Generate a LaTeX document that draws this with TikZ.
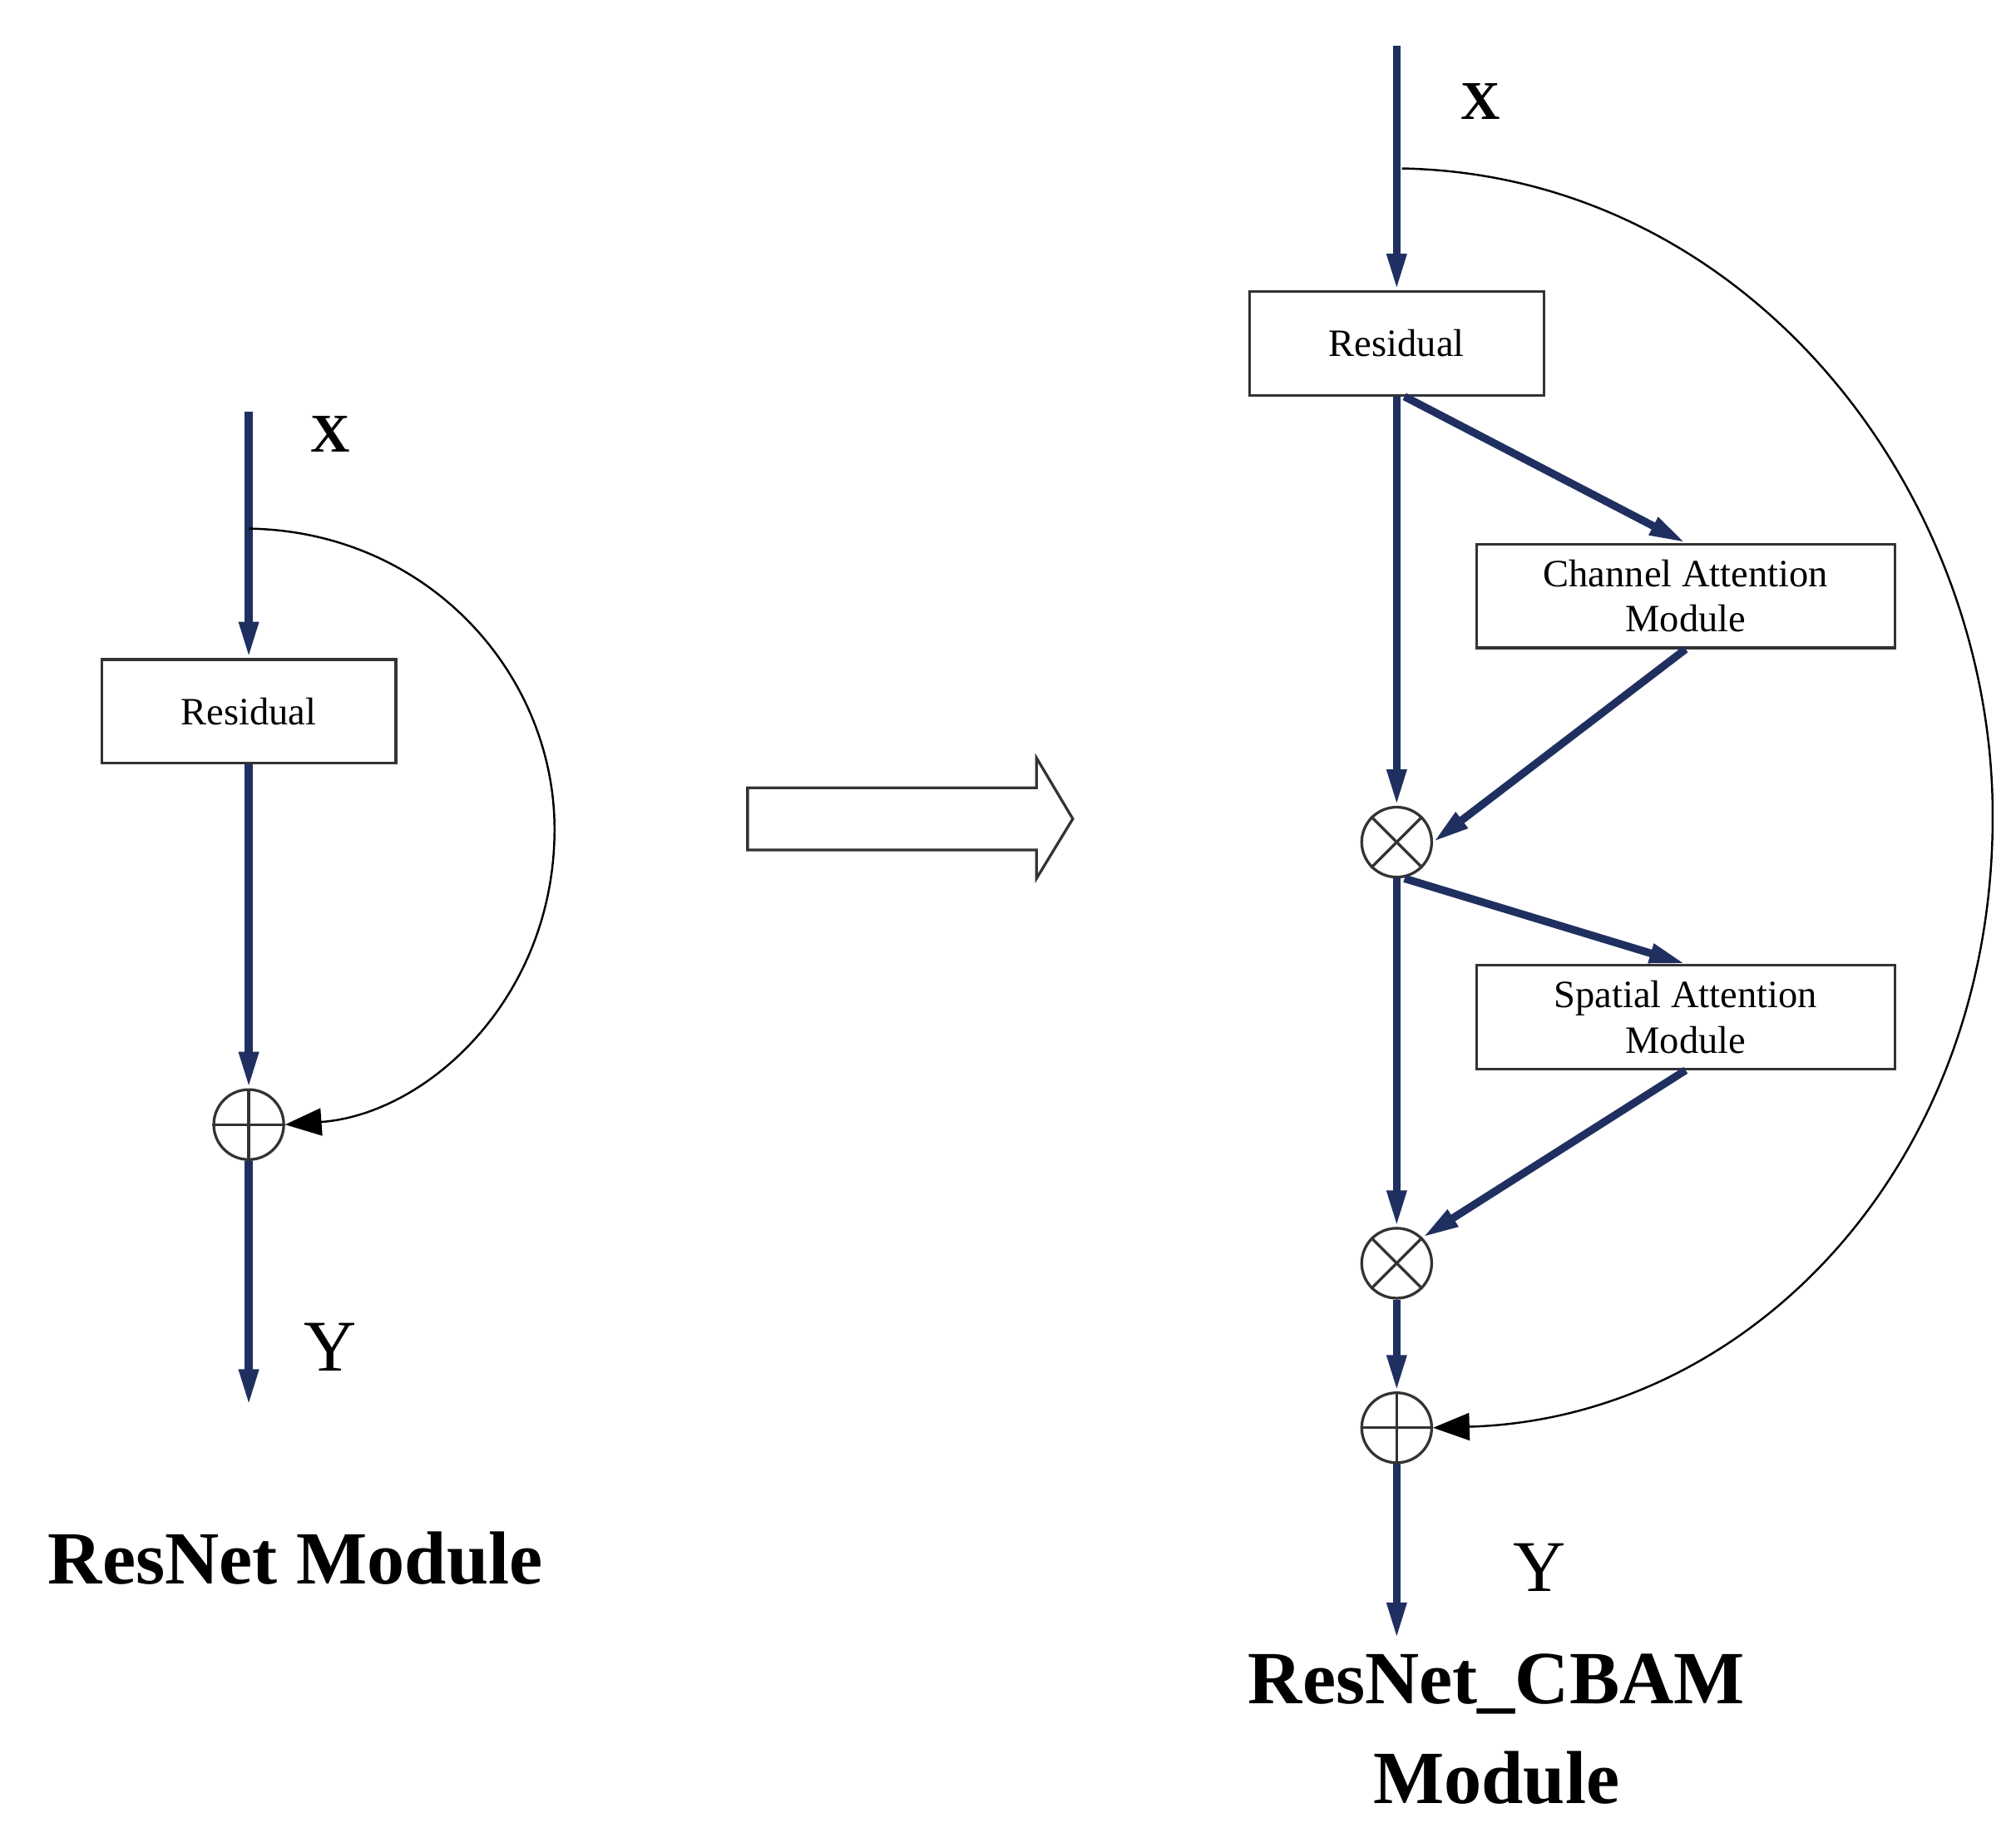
\documentclass[tikz,border=0pt]{standalone}
\usepackage{fontspec}
\setmainfont{Liberation Serif}
\usetikzlibrary{arrows.meta}
\definecolor{navy}{HTML}{1F3060}
\begin{document}
\begin{tikzpicture}[x=0.02cm,y=-0.02cm,
  main/.style={draw=navy,line width=3.4pt,-{Triangle[length=16pt,width=8pt]}},
  thin/.style={draw=black,line width=0.9pt,-{Triangle[length=16pt,width=12pt]}},
  box/.style={draw=black!80,line width=1.2pt,minimum width=227*0.02cm,minimum height=80*0.02cm,inner sep=0pt,font=\fontsize{17}{20}\selectfont,align=center},
  wbox/.style={box,minimum width=323*0.02cm},
  op/.style={circle,draw=black!80,line width=1.2pt,minimum size=54*0.02cm,inner sep=0pt},
  lbl/.style={font=\fontsize{24}{26}\selectfont\bfseries},
  ttl/.style={font=\fontsize{33}{38}\selectfont\bfseries}]
\useasboundingbox (0,0) rectangle (1556,1407);
% left
\coordinate (lt) at (192,318);
\coordinate (lb) at (192,1085);
\coordinate (ls) at (192,408);
\node[box] (lr) at (192,549) {Residual};
\node[op] (lp) at (192,868) {};
\draw[black!80,line width=1.2pt] (lp.north)--(lp.south) (lp.west)--(lp.east);
\draw[main] (lt)--(lr.north);
\draw[main] (lr.south)--(lp.north);
\draw[main] (lp.south)--(lb);
\draw[thin] (ls) .. controls (330,410) and (428,520) .. (428,640) .. controls (428,770) and (330,860) .. (lp.east);
\node[lbl] at (255,335) {X};
\node[font=\fontsize{32}{34}\selectfont] at (255,1040) {Y};
\node[ttl] at (228,1203) {ResNet Module};
% hollow arrow
\draw[line width=1.2pt,black!80] (577,608)--(800,608)--(800,585)--(828,632)--(800,678)--(800,656)--(577,656)--cycle;
% right
\coordinate (rt) at (1078,35);
\coordinate (rb) at (1078,1265);
\coordinate (rs) at (1082,130);
\node[box] (rr) at (1078,265) {Residual};
\node[wbox] (ca) at (1301,460) {Channel Attention\\Module};
\node[wbox] (sa) at (1301,785) {Spatial Attention\\Module};
\node[op] (m1) at (1078,650) {};
\node[op] (m2) at (1078,975) {};
\node[op] (p3) at (1078,1102) {};
\foreach \n in {m1,m2}{\draw[black!80,line width=1.2pt] (\n.north east)--(\n.south west) (\n.north west)--(\n.south east);}
\draw[black!80,line width=1.2pt] (p3.north)--(p3.south) (p3.west)--(p3.east);
\draw[main] (rt)--(rr.north);
\draw[main] (rr.south)--(m1.north);
\draw[main] (m1.south)--(m2.north);
\draw[main] (m2.south)--(p3.north);
\draw[main] (p3.south)--(rb);
\draw[main] ([xshift=6*0.02cm]rr.south)--(ca.north);
\draw[main] (ca.south)--(m1.east);
\draw[main] ([xshift=6*0.02cm]m1.south)--(sa.north);
\draw[main] (sa.south)--(m2.north east);
\draw[thin] (rs) .. controls (1350,135) and (1538,380) .. (1538,630) .. controls (1538,900) and (1350,1095) .. (p3.east);
\node[lbl] at (1143,78) {X};
\node[font=\fontsize{32}{34}\selectfont] at (1188,1210) {Y};
\node[ttl] at (1155,1300) {ResNet\_CBAM};
\node[ttl] at (1155,1372) {Module};
\end{tikzpicture}
\end{document}
